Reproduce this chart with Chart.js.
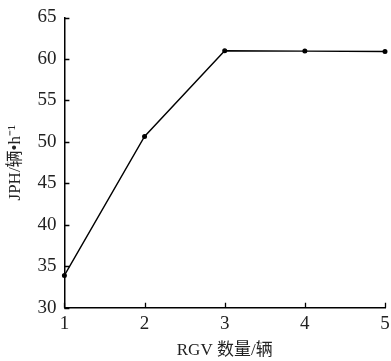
<!DOCTYPE html>
<html><head><meta charset="utf-8">
<script src="https://cdn.jsdelivr.net/npm/chart.js@4"></script>
<style>html,body{margin:0;padding:0;background:#fff}#wrap{width:391px;height:361px}</style>
</head><body><div id="wrap"><canvas id="c" width="391" height="361"></canvas></div>
<script>
const categories = [1, 2, 3, 4, 5];
const jphValues = [33.9, 50.65, 61.0, 60.95, 60.9];
const yTicks = [30, 35, 40, 45, 50, 55, 60, 65];
const xTitle = 'RGV 数量/辆';
const yTitle = 'JPH/辆•h⁻¹';
const FONT = '"Liberation Serif", "Times New Roman", "Noto Sans CJK SC", serif';

const inwardTicks = {
  id: 'inwardTicks',
  afterDraw(chart) {
    const ctx = chart.ctx, xs = chart.scales.x, ys = chart.scales.y;
    const L = 5;
    ctx.save();
    ctx.strokeStyle = '#000';
    ctx.lineWidth = 1.3;
    ctx.beginPath();
    yTicks.forEach(v => {
      const py = Math.round(ys.getPixelForValue(v)) + 0.5;
      ctx.moveTo(xs.left, py); ctx.lineTo(xs.left + L, py);
    });
    categories.forEach(v => {
      const px = Math.round(xs.getPixelForValue(v)) + 0.5;
      ctx.moveTo(px, ys.bottom); ctx.lineTo(px, ys.bottom - L);
    });
    ctx.stroke();
    ctx.restore();
  }
};

new Chart(document.getElementById('c'), {
  type: 'line',
  data: {
    datasets: [{
      data: categories.map((x, i) => ({x, y: jphValues[i]})),
      borderColor: '#000',
      backgroundColor: '#000',
      borderWidth: 1.4,
      pointRadius: 1.8,
      pointHoverRadius: 1.8,
      tension: 0,
      clip: false
    }]
  },
  options: {
    responsive: false,
    animation: false,
    layout: {padding: {top: 4, right: 0, left: 5, bottom: 0}},
    plugins: {legend: {display: false}, tooltip: {enabled: false}},
    scales: {
      x: {
        type: 'linear', min: 1, max: 5,
        afterBuildTicks: s => { s.ticks = categories.map(v => ({value: v})); },
        afterFit: s => { s.paddingRight = 6; },
        grid: {display: false, drawTicks: false},
        border: {display: true, color: '#000', width: 1.5},
        ticks: {color: '#222', font: {family: FONT, size: 19}, padding: 5},
        title: {display: true, text: xTitle, color: '#222', font: {family: FONT, size: 17}, padding: {top: 0, bottom: 0}}
      },
      y: {
        min: 30, max: 65,
        afterBuildTicks: s => { s.ticks = yTicks.map(v => ({value: v})); },
        grid: {display: false, drawTicks: false},
        border: {display: true, color: '#000', width: 1.5},
        ticks: {color: '#222', font: {family: FONT, size: 19, lineHeight: 1.0}, padding: 8},
        title: {display: true, text: yTitle, color: '#222', font: {family: FONT, size: 17}, padding: {top: 0, bottom: 4}}
      }
    }
  },
  plugins: [inwardTicks]
});
</script></body></html>
